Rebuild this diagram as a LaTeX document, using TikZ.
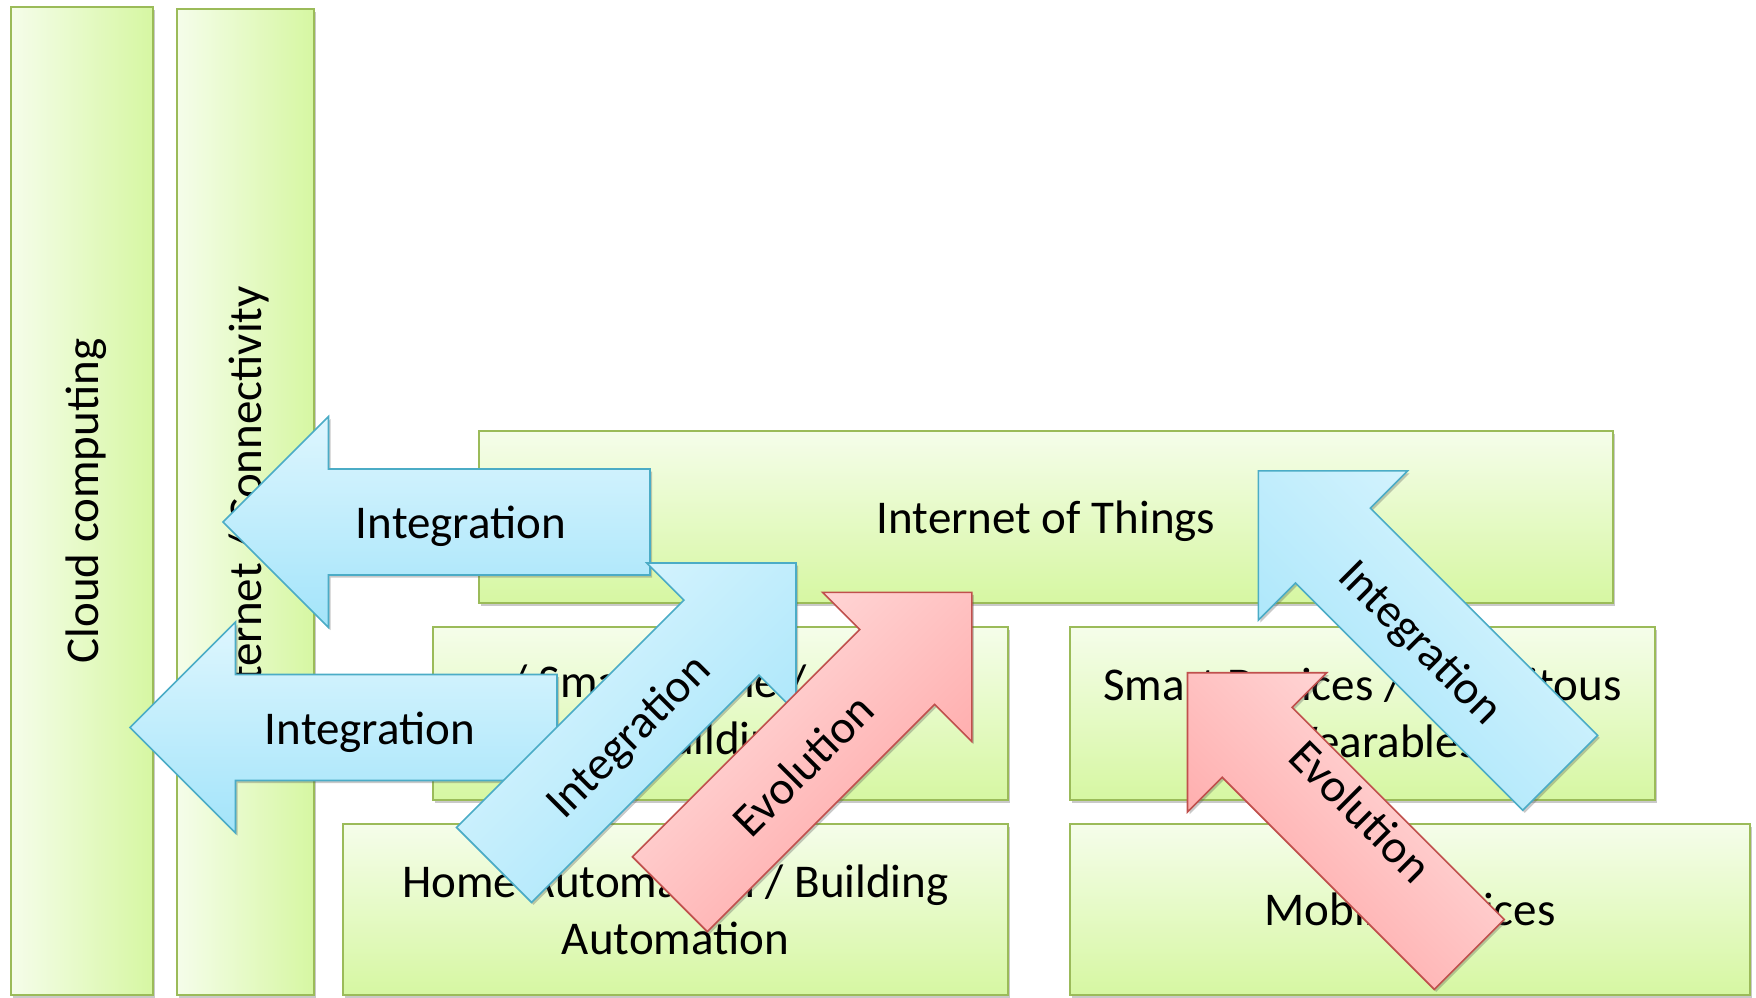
\documentclass[tikz,border=0pt]{standalone}
\usepackage{fontspec}
\setmainfont{Carlito}
\usetikzlibrary{shadows}
\definecolor{boxlight}{HTML}{F5FDEA}
\definecolor{boxdark}{HTML}{D6F7A2}
\definecolor{boxline}{HTML}{9BBB59}
\definecolor{bluelight}{HTML}{DEF6FE}
\definecolor{bluedark}{HTML}{A3E4FA}
\definecolor{blueline}{HTML}{4BACC6}
\definecolor{redlight}{HTML}{FFE0E0}
\definecolor{reddark}{HTML}{FFA3A3}
\definecolor{redline}{HTML}{C0504D}
\tikzset{
  lbl/.style={font=\fontsize{47}{57}\selectfont, inner sep=0pt, align=center, text=black},
  oneline/.style={font=\fontsize{47}{57}\selectfont, inner sep=0pt, text=black, text height=44.7pt, text depth=12.6pt},
  softshadow/.style={drop shadow={shadow xshift=2pt, shadow yshift=-2.5pt, opacity=0.3, fill=black!70}},
  boxbase/.style={draw=boxline, line width=2pt, softshadow, inner sep=0pt},
  widebox/.style={boxbase, top color=boxlight, bottom color=boxdark},
  tallbox/.style={boxbase, left color=boxlight, right color=boxdark},
  bluearrow/.style={draw=blueline, line width=1.6pt, top color=bluelight, bottom color=bluedark, shading angle=#1, softshadow},
  redarrow/.style={draw=redline, line width=1.6pt, top color=redlight, bottom color=reddark, shading angle=#1, softshadow}
}
% #1 style, #2 tip, #3 direction angle, #4 scale
\newcommand{\blockarrow}[4]{%
  \path[#1, shift={#2}, rotate=#3, scale=#4]
    (0,0) -- (-105.5,105.5) -- (-105.5,53) -- (-427,53) -- (-427,-53)
    -- (-105.5,-53) -- (-105.5,-105.5) -- cycle;}
\begin{document}
\begin{tikzpicture}[x=1pt,y=-1pt]
\useasboundingbox (0,0) rectangle (1756,997);
% boxes
\node[tallbox, minimum width=142pt, minimum height=988pt] (cloud) at (82,501) {};
\node[oneline, rotate=90] (cloudtxt) at (cloud.center) {Cloud computing};
\node[tallbox, minimum width=137pt, minimum height=986pt] (inet) at (245.5,502) {};
\node[oneline, rotate=90] (inettxt) at (inet.center) {Internet / Connectivity};
\node[widebox, minimum width=1134pt, minimum height=172pt] (iot) at (1046,517) {};
\node[oneline] (iottxt) at (iot.center) {Internet of Things};
\node[widebox, lbl, minimum width=575pt, minimum height=173pt] (home) at (720.5,713.5) {/ Smart Home / Smart\\Building};
\node[widebox, lbl, minimum width=665pt, minimum height=171pt] (hauto) at (675.5,909.5) {Home Automation / Building\\Automation};
\node[widebox, lbl, minimum width=585pt, minimum height=173pt] (smart) at (1362.5,713.5) {Smart Devices / Ubiquitous\\/ Wearables};
\node[widebox, minimum width=680pt, minimum height=171pt] (mobile) at (1410,909.5) {};
\node[oneline] (mobiletxt) at (mobile.center) {Mobile Devices};
% arrows
\blockarrow{bluearrow=0}{(223,522)}{180}{1}
\node[oneline] (int1) at (461,522) {Integration};
\blockarrow{bluearrow=0}{(130,727.5)}{180}{1}
\node[oneline] (int2) at (370,728) {Integration};
\blockarrow{bluearrow=45}{(796,563)}{45}{1}
\node[oneline, rotate=45] (int3) at (627,735) {Integration};
\blockarrow{redarrow=45}{(971.8,592.3)}{45}{1}
\node[oneline, rotate=45] (evo1) at (803,765) {Evolution};
\blockarrow{bluearrow=-45}{(1258.3,470.9)}{135}{1}
\node[oneline, rotate=-45] (int4) at (1422,641) {Integration};
\blockarrow{redarrow=-45}{(1187.5,672.7)}{135}{0.933}
\node[oneline, rotate=-45] (evo2) at (1361,811) {Evolution};
\end{tikzpicture}
\end{document}
